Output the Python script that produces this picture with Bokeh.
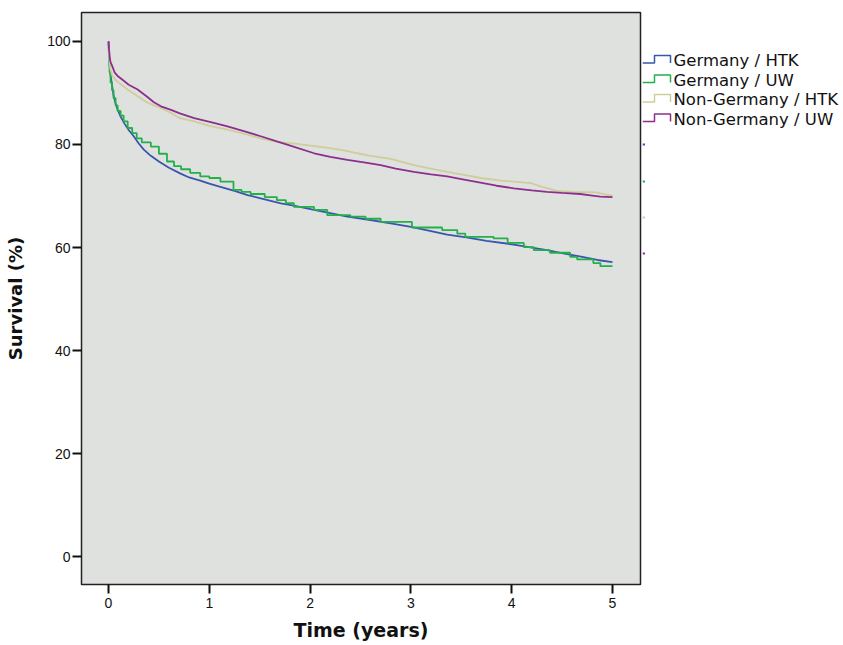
from bokeh.plotting import figure
from bokeh.layouts import row
from bokeh.models import FixedTicker
from bokeh.core.properties import value
from bokeh.embed import file_html
from bokeh.resources import INLINE

# ---- data ----
series_names = ["Germany / HTK", "Germany / UW", "Non-Germany / HTK", "Non-Germany / UW"]
series_colors = ["#3a55ad", "#22b04b", "#cfcd9a", "#8c2f8e"]

ger_htk_t = [0.00, 0.005, 0.01, 0.02, 0.035, 0.05, 0.07, 0.09, 0.12, 0.16, 0.20, 0.25, 0.30, 0.35,
             0.42, 0.50, 0.60, 0.71, 0.80, 0.91, 1.00, 1.11, 1.25, 1.38, 1.50, 1.71, 1.85, 2.04,
             2.20, 2.37, 2.55, 2.80, 3.00, 3.20, 3.36, 3.55, 3.75, 4.02, 4.20, 4.35, 4.51, 4.70,
             4.85, 5.00]
ger_htk_s = [100.0, 97.0, 95.5, 93.5, 91.5, 89.5, 88.0, 86.8, 85.4, 84.0, 82.8, 81.6, 80.2, 79.0,
             77.8, 76.7, 75.5, 74.4, 73.6, 73.0, 72.4, 71.8, 71.0, 70.2, 69.6, 68.6, 68.1, 67.3,
             66.7, 66.0, 65.5, 64.7, 64.0, 63.2, 62.5, 62.0, 61.3, 60.6, 60.0, 59.5, 58.9, 58.2,
             57.6, 57.2]

ger_uw_t = [0.00, 0.005, 0.01, 0.02, 0.035, 0.05, 0.07, 0.09, 0.12, 0.15, 0.19, 0.235, 0.28, 0.33,
            0.42, 0.50, 0.58, 0.65, 0.72, 0.81, 0.91, 1.00, 1.11, 1.24, 1.32, 1.41, 1.55, 1.67,
            1.76, 1.84, 2.04, 2.17, 2.40, 2.55, 2.70, 3.01, 3.31, 3.46, 3.54, 3.82, 3.96, 4.12,
            4.22, 4.38, 4.58, 4.65, 4.81, 4.88, 5.00]
ger_uw_s = [99.0, 96.0, 94.0, 92.0, 90.5, 89.0, 87.6, 86.5, 85.6, 84.5, 83.2, 82.2, 81.2, 80.4,
            79.6, 78.2, 76.7, 75.8, 75.2, 74.5, 73.8, 73.5, 72.8, 71.2, 70.8, 70.4, 69.8, 69.2,
            68.6, 67.9, 67.3, 66.3, 66.0, 65.6, 65.0, 63.9, 63.4, 62.7, 62.1, 61.8, 60.9, 60.1,
            59.5, 59.0, 58.2, 57.7, 57.0, 56.4, 56.4]

non_htk_t = [0.00, 0.01, 0.02, 0.04, 0.07, 0.10, 0.14, 0.20, 0.28, 0.37, 0.45, 0.52, 0.62, 0.71,
             0.85, 1.00, 1.18, 1.38, 1.51, 1.67, 1.87, 2.04, 2.20, 2.35, 2.47, 2.60, 2.80, 3.03,
             3.20, 3.36, 3.50, 3.69, 3.90, 4.19, 4.30, 4.45, 4.60, 4.84, 4.95, 5.00]
non_htk_s = [99.0, 96.0, 94.5, 93.3, 92.5, 92.0, 91.4, 90.5, 89.5, 88.3, 87.6, 87.1, 86.1, 85.1,
             84.5, 83.6, 82.9, 81.9, 81.2, 80.5, 80.1, 79.7, 79.3, 78.8, 78.3, 77.8, 77.2, 76.0,
             75.3, 74.7, 74.2, 73.5, 73.0, 72.5, 71.8, 71.0, 70.8, 70.7, 70.2, 70.1]

non_uw_t = [0.00, 0.005, 0.012, 0.02, 0.037, 0.06, 0.09, 0.136, 0.20, 0.285, 0.38, 0.45, 0.52,
            0.62, 0.714, 0.85, 1.045, 1.18, 1.376, 1.51, 1.67, 1.85, 2.04, 2.20, 2.37, 2.55, 2.70,
            2.85, 3.03, 3.20, 3.36, 3.50, 3.69, 3.85, 4.02, 4.20, 4.35, 4.50, 4.68, 4.80, 4.88, 5.00]
non_uw_s = [100.0, 98.5, 97.0, 96.0, 95.2, 94.0, 93.3, 92.6, 91.6, 90.7, 89.3, 88.2, 87.4,
            86.7, 86.0, 85.1, 84.2, 83.5, 82.4, 81.6, 80.6, 79.5, 78.3, 77.6, 77.0, 76.5, 76.0,
            75.3, 74.7, 74.2, 73.8, 73.3, 72.6, 72.0, 71.5, 71.1, 70.8, 70.6, 70.4, 70.1, 69.9, 69.8]

x_ticks = [0, 1, 2, 3, 4, 5]
y_ticks = [0, 20, 40, 60, 80, 100]

series_t = [ger_htk_t, ger_uw_t, non_htk_t, non_uw_t]
series_s = [ger_htk_s, ger_uw_s, non_htk_s, non_uw_s]
series_step = [False, True, False, False]

# ---- main figure ----
H = 645
W_MAIN = 642
W_LEG = 201
TOP, BOTTOM = 12, 584
p = figure(width=W_MAIN, height=H, output_backend="svg", toolbar_location=None,
           x_range=(-0.268, 5.278), y_range=(-5.34, 105.6),
           min_border_left=81, min_border_top=TOP, min_border_right=2,
           min_border_bottom=H - BOTTOM)
p.background_fill_color = "#dfe1de"
p.border_fill_color = "white"
p.outline_line_color = "#222222"
p.outline_line_width = 1.5
p.grid.visible = False

for ax in (p.xaxis[0], p.yaxis[0]):
    ax.axis_line_color = None
    ax.major_tick_line_color = "#111111"
    ax.major_tick_line_width = 2
    ax.major_tick_in = 0
    ax.major_tick_out = 9
    ax.minor_tick_line_color = None
    ax.major_label_text_font = "Liberation Sans"
    ax.major_label_text_font_size = "14px"
    ax.major_label_text_color = "#111111"
    ax.axis_label_text_font = "DejaVu Sans"
    ax.axis_label_text_font_style = "bold"
    ax.axis_label_text_color = "#111111"

p.xaxis.ticker = FixedTicker(ticks=x_ticks)
p.yaxis.ticker = FixedTicker(ticks=y_ticks)
p.xaxis.axis_label = "Time (years)"
p.yaxis.axis_label = "Survival (%)"
p.xaxis.axis_label_text_font_size = "19px"
p.yaxis.axis_label_text_font_size = "18px"
p.xaxis.major_label_standoff = 4
p.xaxis.axis_label_standoff = 8
p.yaxis.major_label_standoff = 2
p.yaxis.axis_label_standoff = 18

for t, s, c, st in zip(series_t, series_s, series_colors, series_step):
    if st:
        p.step(t, s, mode="after", line_color=c, line_width=1.8)
    else:
        p.line(t, s, line_color=c, line_width=1.8)

# ---- legend panel at the right (pixel coordinates, frame aligned with main) ----
leg = figure(width=W_LEG, height=H, output_backend="svg", toolbar_location=None,
             x_range=(0, W_LEG), y_range=(BOTTOM, TOP),
             min_border_left=0, min_border_right=0,
             min_border_top=TOP, min_border_bottom=H - BOTTOM)
leg.axis.visible = False
leg.grid.visible = False
leg.outline_line_color = None
leg.background_fill_color = "white"
leg.border_fill_color = "white"

row_y = [60, 79.5, 99, 118.5]
for c, ry in zip(series_colors, row_y):
    hi, lo = ry - 5, ry + 2.5
    leg.line([0, 12, 12, 28, 28], [lo, lo, hi, hi, lo], line_color=c, line_width=1.5)
leg.text(x=[31] * 4, y=row_y, text=series_names, text_font=value("DejaVu Sans"),
         text_font_size="16.5px", text_color="#111111", text_baseline="middle",
         text_align="left")

# small colour marks beside the right edge of the frame
mark_y = [144, 181, 217, 253]
for c, my in zip(series_colors, mark_y):
    leg.line([0, 2.5], [my, my], line_color=c, line_width=2)

layout = row(p, leg)
open("out.html", "w").write(file_html(layout, INLINE))
